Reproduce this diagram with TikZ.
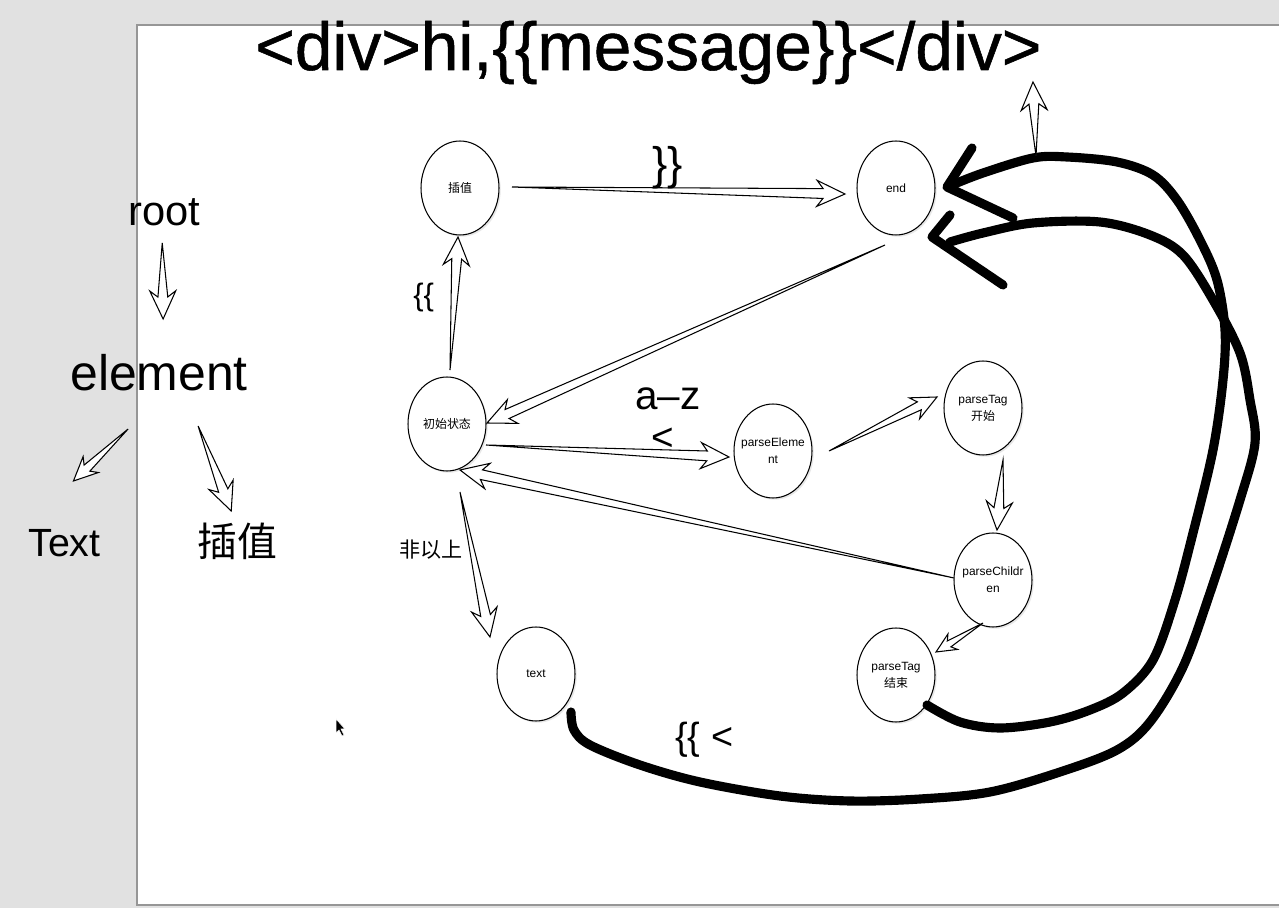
\documentclass[tikz,border=0pt]{standalone}
\usepackage{fontspec}
\setmainfont{Liberation Sans}
\newfontfamily\cjk{Noto Sans CJK SC}
\usetikzlibrary{calc,shapes.geometric,shadows}
\definecolor{bggray}{RGB}{225,225,225}
\definecolor{frame}{RGB}{150,150,150}
\newcommand\blk[3][1]{%
  \coordinate (bT) at #2;
  \coordinate (bH) at #3;
  \draw[blkst] (bT) -- ($(bH)!#1*12.5pt!(bT)!#1*2.8pt!90:(bT)$)
    -- ($(bH)!#1*16pt!(bT)!#1*7.4pt!90:(bT)$) -- (bH)
    -- ($(bH)!#1*16pt!(bT)!#1*7.4pt!-90:(bT)$)
    -- ($(bH)!#1*12.5pt!(bT)!#1*2.8pt!-90:(bT)$) -- cycle;}
\begin{document}
\begin{tikzpicture}[x=0.02cm,y=-0.02cm,
  st/.style={ellipse,draw,line width=0.6pt,fill=white,minimum width=1.56cm,
    minimum height=1.88cm,inner xsep=-3pt,inner ysep=0pt,align=center,
    font=\fontsize{6.8}{9.6}\selectfont,
    drop shadow={opacity=0.18,shadow xshift=1pt,shadow yshift=-1pt}},
  blkst/.style={draw,line width=0.6pt,fill=white,line join=miter},
  ink/.style={line width=5.2pt,line cap=round,line join=round},
  lbl/.style={inner sep=0pt,anchor=base west}]
\useasboundingbox (0,0) rectangle (1279,908);
\fill[bggray] (0,0) rectangle (1279,908);
\draw[frame,fill=white,line width=0.6pt] (137,25) rectangle (1300,905);

% title
\node[lbl] (title) at (255,70) {\fontsize{38.5}{44}\selectfont\addfontfeature{FakeBold=0.8} <div>hi,\{\{message\}\}</div>};

% left tree
\node[lbl] (root) at (128,226) {\fontsize{23.7}{28}\selectfont root};
\node[lbl] (elem) at (70,391) {\fontsize{28.4}{32}\selectfont element};
\node[lbl] (ltext) at (28,557) {\fontsize{22.4}{26}\selectfont Text};
\node[lbl] (lcz) at (197,557) {\fontsize{22.7}{26}\selectfont\cjk 插值};
\blk{($(root.base)+(-2,17)$)}{($(elem.base)+(4,-72)$)}
\blk[0.85]{($(elem.base)+(-31,38)$)}{($(ltext.base)+(9,-76)$)}
\blk{($(elem.base)+(39,35)$)}{($(lcz.base)+(-6,-46)$)}

% states
\node[st] (cz) at (460,188) {\cjk 插值};
\node[st] (end) at (896,188) {end};
\node[st] (init) at (447,424) {\cjk 初始状态};
\node[st] (pe) at (773,451) {parseEleme\\nt};
\node[st] (pts) at (983,408) {parseTag\\{\cjk 开始}};
\node[st] (pc) at (993,580) {parseChildr\\en};
\node[st] (pte) at (896,675) {parseTag\\{\cjk 结束}};
\node[st] (txt) at (536,674) {text};

% hollow arrows
\blk{($(cz)+(52,-1)$)}{($(end)+(-51,6)$)}
\blk{($(init)+(3,-54)$)}{($(cz)+(-2,49)$)}
\blk{($(end)+(-11,57)$)}{($(init)+(40,-1)$)}
\blk{($(init)+(39,21)$)}{($(pe)+(-44,6)$)}
\blk[0.9]{($(pe)+(56,0)$)}{($(pts)+(-46,-11)$)}
\blk{($(pts)+(20,52)$)}{($(pc)+(4,-50)$)}
\blk{($(pc)+(-39,-2)$)}{($(init)+(13,46)$)}
\blk{($(init)+(13,68)$)}{($(txt)+(-46,-37)$)}
\blk[0.7]{($(pc)+(-10,43)$)}{($(pte)+(40,-23)$)}

% labels
\node[lbl] (l1) at (652,180) {\fontsize{26}{30}\selectfont \}\}};
\node[lbl] (l2) at (413,306) {\fontsize{17.6}{20}\selectfont \{\{};
\node[lbl] (l3) at (635,410) {\fontsize{23}{26}\selectfont a–z};
\node[lbl] (l4) at (651,451) {\fontsize{22}{26}\selectfont <};
\node (l5) at (431,550) {\fontsize{12}{14}\selectfont\cjk 非以上};
\node[lbl] (l6) at (675,750) {\fontsize{21.5}{25}\selectfont \{\{ <};

% thick hand-drawn arrows
\coordinate (pteout) at ($(pte)+(31,30)$);
\coordinate (txtout) at ($(txt)+(35,38)$);
\draw[ink] plot[smooth,tension=0.55] coordinates {(pteout) (960,722) (1000,728)
  (1050,722) (1090,710) (1123,693) (1153,660) (1175,600) (1193,533) (1213,450)
  (1223,380) (1225,330) (1217,280) (1200,240) (1177,200) (1153,175) (1117,162)
  (1067,157) (1033,158) (983,173) (952,185)};
\draw[ink] (972,148) -- (947,187) -- (1013,218);
\draw[ink] plot[smooth,tension=0.55] coordinates {(txtout) (574,730) (590,745)
  (640,765) (700,782) (780,796) (850,801) (920,799) (990,792) (1060,772)
  (1117,750) (1150,722) (1183,667) (1210,593) (1240,500) (1255,443) (1250,400)
  (1240,353) (1213,300) (1183,255) (1150,235) (1100,222) (1033,223) (983,233)
  (950,242)};
\draw[ink] (950,215) -- (932,237) -- (1003,285);

% small upward arrow
\coordinate (upt) at (1036,156);
\coordinate (uph) at (1033,82);
\blk{(upt)}{(uph)}

% mouse pointer
\draw[white,fill=black,line width=0.3pt] (336,719) -- (336,733) -- (339,730)
  -- (342,736) -- (344,735) -- (341,729) -- (345,729) -- cycle;
\end{tikzpicture}
\end{document}
